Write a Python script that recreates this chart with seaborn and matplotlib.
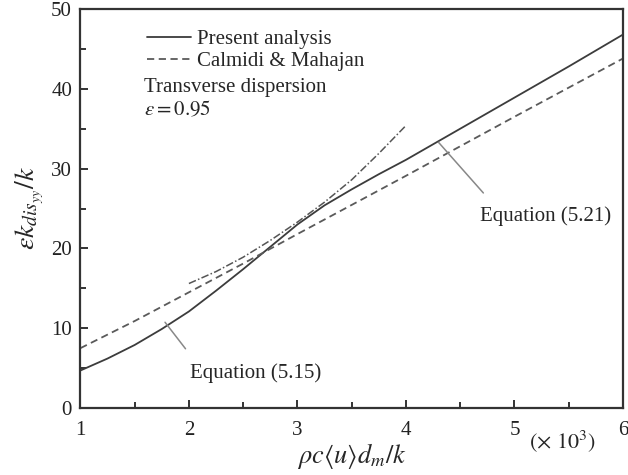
import matplotlib
matplotlib.use("Agg")
import matplotlib.pyplot as plt
import seaborn as sns
import pandas as pd
from matplotlib.ticker import MultipleLocator

# ---- data ----
present_x = [1.0, 1.25, 1.5, 1.75, 2.0, 2.25, 2.5, 2.75, 3.0, 3.25, 3.5, 3.75, 4.0, 4.5, 5.0, 5.5, 6.0]
present_y = [4.7, 6.2, 7.9, 9.9, 12.1, 14.7, 17.4, 20.2, 23.0, 25.4, 27.4, 29.3, 31.1, 35.0, 38.9, 42.8, 46.8]

calmidi_x = [1.0, 1.5, 2.0, 2.5, 3.0, 4.0, 5.0, 6.0]
calmidi_y = [7.5, 10.9, 14.5, 18.1, 21.8, 29.1, 36.5, 43.8]

asym_x = [2.0, 2.25, 2.5, 2.75, 3.0, 3.25, 3.5, 3.75, 4.0]
asym_y = [15.6, 17.1, 18.9, 21.0, 23.3, 25.8, 28.6, 31.9, 35.4]

series_labels = ["Present analysis", "Calmidi & Mahajan"]
x_ticks = [1, 2, 3, 4, 5, 6]
y_ticks = [0, 10, 20, 30, 40, 50]

sns.set_theme(style="ticks")
plt.rcParams["font.family"] = ["Liberation Serif", "DejaVu Serif"]
plt.rcParams["mathtext.fontset"] = "stix"

fig = plt.figure(figsize=(6.28, 4.75), dpi=100)
ax = fig.add_axes([0.128, 0.141, 0.864, 0.840])

df_p = pd.DataFrame({"x": present_x, "y": present_y})
df_c = pd.DataFrame({"x": calmidi_x, "y": calmidi_y})
df_a = pd.DataFrame({"x": asym_x, "y": asym_y})

sns.lineplot(data=df_p, x="x", y="y", ax=ax, color="#3c3c3c", lw=1.3,
             label=series_labels[0])
sns.lineplot(data=df_c, x="x", y="y", ax=ax, color="#5a5a5a", lw=1.3,
             linestyle=(0, (4, 2.5)), label=series_labels[1])
sns.lineplot(data=df_a, x="x", y="y", ax=ax, color="#555555", lw=1.1,
             linestyle=(0, (5, 1.5, 1, 1.5)))

ax.set_xlim(1, 6)
ax.set_ylim(0, 50)
ax.set_xticks(x_ticks)
ax.set_yticks(y_ticks)
ax.xaxis.set_minor_locator(MultipleLocator(0.5))
ax.yaxis.set_minor_locator(MultipleLocator(5))
ax.tick_params(which="both", direction="in", top=False, right=False,
               labelsize=15, colors="#222222", width=1.3)
ax.tick_params(axis="x", which="major", length=6, pad=9)
ax.tick_params(axis="y", which="major", length=6, pad=6)
ax.tick_params(which="minor", length=4)
for s in ax.spines.values():
    s.set_linewidth(1.6)
    s.set_color("#333333")

ax.set_xlabel(r"$\rho c \langle u\rangle d_m/k$", fontsize=19, labelpad=1)
ax.set_ylabel(r"$\varepsilon k_{dis_{yy}}/k$", fontsize=20, labelpad=4)

leg = ax.legend(loc="upper left", bbox_to_anchor=(0.10, 0.98), frameon=False,
                fontsize=15, handlelength=2.1, handletextpad=0.3,
                labelspacing=0.12, borderaxespad=0.2)

ax.text(0.118, 0.803, "Transverse dispersion", transform=ax.transAxes,
        fontsize=15, va="center", ha="left")
ax.text(0.118, 0.745, r"$\varepsilon = 0.95$", transform=ax.transAxes,
        fontsize=15, va="center", ha="left")

ax.annotate("Equation (5.15)", xy=(1.78, 10.75), xytext=(2.01, 4.4),
            fontsize=15, ha="left", va="center",
            arrowprops=dict(arrowstyle="-", color="#888888", lw=1.1,
                            shrinkA=10, shrinkB=0, relpos=(0.05, 1.0)))
ax.annotate("Equation (5.21)", xy=(4.3, 33.3), xytext=(4.68, 24.0),
            fontsize=15, ha="left", va="center",
            arrowprops=dict(arrowstyle="-", color="#888888", lw=1.1,
                            shrinkA=10, shrinkB=0, relpos=(0.12, 1.0)))

fig.text(0.843, 0.072, r"$(\times\ 10^3)$", fontsize=16, ha="left", va="center")

fig.savefig("out.png", dpi=100)
